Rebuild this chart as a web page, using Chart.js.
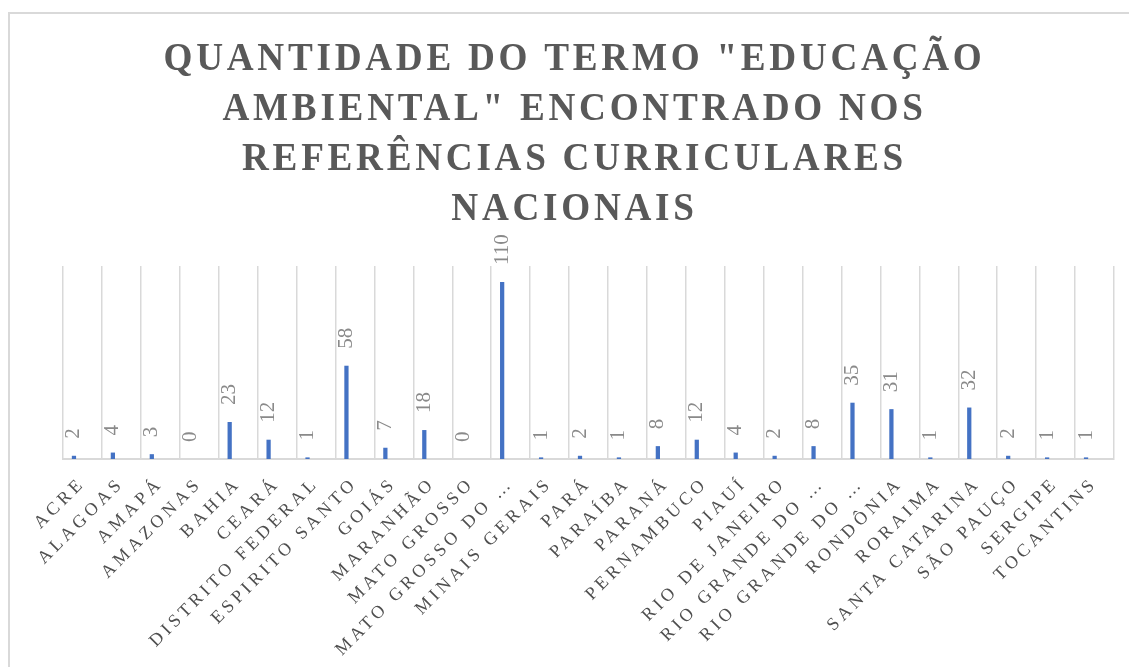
<!DOCTYPE html>
<html lang="pt-BR">
<head>
<meta charset="utf-8">
<title>Educação Ambiental - Referências Curriculares</title>
<script src="https://cdn.jsdelivr.net/npm/chart.js@4/dist/chart.umd.min.js"></script>
<style>
    html, body { margin: 0; padding: 0; background: #ffffff; }
    .wrap { position: relative; width: 1129px; height: 667px; }
</style>
</head>
<body>
<div class="wrap">
    <canvas id="chart" width="1129" height="667"></canvas>
</div>
<script>
const estados = [
    'ACRE', 'ALAGOAS', 'AMAPÁ', 'AMAZONAS', 'BAHIA', 'CEARÁ', 'DISTRITO FEDERAL',
    'ESPIRITO SANTO', 'GOIÁS', 'MARANHÃO', 'MATO GROSSO', 'MATO GROSSO DO …',
    'MINAIS GERAIS', 'PARÁ', 'PARAÍBA', 'PARANÁ', 'PERNAMBUCO', 'PIAUÍ',
    'RIO DE JANEIRO', 'RIO GRANDE DO …', 'RIO GRANDE DO …', 'RONDÔNIA', 'RORAIMA',
    'SANTA CATARINA', 'SÃO PAUÇO', 'SERGIPE', 'TOCANTINS',
];
const quantidades = [2, 4, 3, 0, 23, 12, 1, 58, 7, 18, 0, 110, 1, 2, 1, 8, 12, 4, 2, 8, 35, 31, 1, 32, 2, 1, 1];
// the source sheet had two more (empty) series, which is why the bars sit left of centre
const serieVazia2 = [];
const serieVazia3 = [];

const tituloLinhas = [
    'QUANTIDADE DO TERMO "EDUCAÇÃO',
    'AMBIENTAL" ENCONTRADO NOS',
    'REFERÊNCIAS CURRICULARES',
    'NACIONAIS',
];

const serif = "'Liberation Serif', 'DejaVu Serif', serif";

// wraps a draw method: letter spacing, optional horizontal squeeze around the centre, optional shift
const wrapDraw = (target, method, spacing, squeeze = 1, shift = 0) => {
    if (!target || target[`__wrapped_${method}`]) {
        return;
    }
    const original = target[method];
    target[method] = function (...args) {
        const ctx = this.ctx;
        const cx = (this.left + this.right) / 2;
        ctx.save();
        ctx.letterSpacing = spacing;
        ctx.translate(cx + shift, 0);
        ctx.scale(squeeze, 1);
        ctx.translate(-cx, 0);
        original.apply(this, args);
        ctx.restore();
    };
    target[`__wrapped_${method}`] = true;
};

const moldura = {
    id: 'moldura',
    beforeDraw(chart) {
        const { ctx, width, height } = chart;
        ctx.save();
        ctx.fillStyle = '#ffffff';
        ctx.fillRect(0, 0, width, height);
        ctx.strokeStyle = '#d9d9d9';
        ctx.lineWidth = 2;
        ctx.beginPath();
        ctx.moveTo(9, height + 2);
        ctx.lineTo(9, 13);
        ctx.lineTo(width + 2, 13);
        ctx.stroke();
        ctx.restore();

        wrapDraw(chart.titleBlock, 'draw', '4px', 0.93, -14);
        wrapDraw(chart.scales.x, 'drawLabels', '4px');
    },
};

const rotulosValores = {
    id: 'rotulosValores',
    afterDatasetsDraw(chart) {
        const { ctx } = chart;
        const meta = chart.getDatasetMeta(0);
        ctx.save();
        ctx.fillStyle = '#8a8a8a';
        ctx.font = `21px ${serif}`;
        ctx.textAlign = 'left';
        ctx.textBaseline = 'middle';
        meta.data.forEach((bar, i) => {
            ctx.save();
            ctx.translate(bar.x, bar.y - 17);
            ctx.rotate(-Math.PI / 2);
            ctx.fillText(String(quantidades[i]), 0, 0);
            ctx.restore();
        });
        ctx.restore();
    },
};

new Chart(document.getElementById('chart'), {
    type: 'bar',
    data: {
        labels: estados,
        datasets: [
            {
                label: 'Quantidade',
                data: quantidades,
                backgroundColor: '#4472c4',
                borderWidth: 0,
                categoryPercentage: 0.655,
                barPercentage: 0.5,
            },
            { label: 'Série 2', data: serieVazia2, categoryPercentage: 0.655, barPercentage: 0.5 },
            { label: 'Série 3', data: serieVazia3, categoryPercentage: 0.655, barPercentage: 0.5 },
        ],
    },
    options: {
        responsive: false,
        animation: false,
        layout: {
            padding: { left: 63, right: 15, top: 0, bottom: 0 },
        },
        plugins: {
            legend: { display: false },
            tooltip: { enabled: false },
            title: {
                display: true,
                text: tituloLinhas,
                color: '#595959',
                font: { family: serif, size: 40, weight: 'bold', lineHeight: 1.245 },
                padding: { top: 35, bottom: 31.8 },
            },
        },
        scales: {
            x: {
                grid: {
                    display: true,
                    offset: true,
                    color: '#d9d9d9',
                    lineWidth: 1.5,
                    drawTicks: false,
                },
                border: { display: true, color: '#d9d9d9', width: 2 },
                ticks: {
                    autoSkip: false,
                    minRotation: 45,
                    maxRotation: 45,
                    padding: 14,
                    color: '#4f4f4f',
                    font: { family: serif, size: 18 },
                },
                afterFit: (scale) => {
                    scale.height = 208;
                },
            },
            y: {
                display: false,
                min: 0,
                max: 120,
            },
        },
    },
    plugins: [moldura, rotulosValores],
});
</script>
</body>
</html>
